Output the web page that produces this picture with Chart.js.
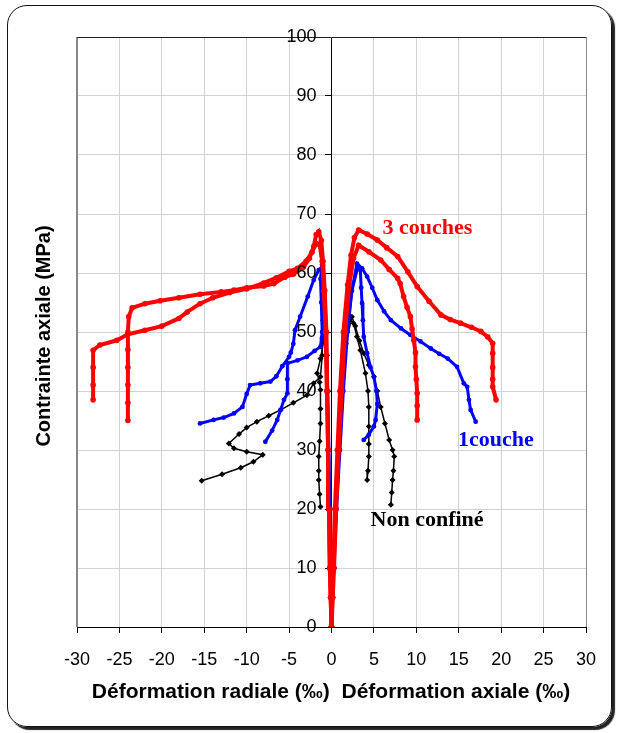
<!DOCTYPE html>
<html>
<head>
<meta charset="utf-8">
<script src="https://cdn.jsdelivr.net/npm/chart.js@4.4.0/dist/chart.umd.min.js"></script>
<style>
body { margin: 0; background: #fff; }
#cadre { position: absolute; left: 7px; top: 5px; width: 605px; height: 722px; box-sizing: border-box;
         border: 1.5px solid #111; border-radius: 20px; box-shadow: 3px 3px 1px #222; }
#graphe { position: absolute; left: 0; top: 0; }
</style>
</head>
<body>
<div id="cadre"></div>
<canvas id="graphe" width="618" height="733"></canvas>
<script>
// [déformation (‰), contrainte (MPa)]
var rouge1Radial = [[0,0],[-0.1,5],[-0.2,10],[-0.3,20],[-0.4,30],[-0.5,40],[-0.6,50],[-0.8,57],[-1.0,62],[-1.2,65.5],[-1.5,67],[-1.8,66.5],[-2.1,64.5],[-2.6,62.5],[-3.3,61],[-4.5,59.8],[-5.5,59.3],[-6.8,58.2],[-8,57.8],[-10,57.5],[-11.5,57.1],[-13,56.8],[-15.5,56.4],[-18,55.8],[-20.2,55.3],[-22,54.8],[-23.5,54.1],[-23.9,52.6],[-24,50],[-24,47],[-24,44],[-24,41],[-24,38],[-24,35]]
var rouge2Radial = [[0,0],[-0.1,5],[-0.2,10],[-0.3,20],[-0.4,30],[-0.55,40],[-0.7,50],[-0.9,57],[-1.1,62],[-1.4,64.8],[-1.8,65],[-2.3,63.5],[-3,62],[-4,60.8],[-5,60.3],[-6.5,59.2],[-8,58.3],[-10,57.3],[-12,56.7],[-14,55.8],[-15.5,54.8],[-17,53.4],[-18,52.3],[-20,51],[-22,50.3],[-24,49.6],[-25.3,48.6],[-27.3,47.8],[-28.1,46.9],[-28.1,44],[-28.1,41],[-28.1,38.5]]
var rouge1Axial = [[0,0],[0.1,5],[0.2,10],[0.4,20],[0.7,30],[1.0,40],[1.4,50],[1.9,58],[2.3,63],[2.7,66],[3.2,67.3],[4.2,66.6],[5.4,65.6],[6.5,64.3],[7.8,62.8],[9,60.2],[10.1,57.7],[11.5,55.2],[12.9,52.9],[14,52.1],[15.2,51.5],[16.5,50.8],[17.6,50.1],[18.4,49.2],[19,48.1],[19,46.4],[19,44],[19,42],[19,40.7],[19.4,38.5]]
var rouge2Axial = [[0,0],[0.15,5],[0.3,10],[0.55,20],[0.85,30],[1.2,40],[1.6,50],[2.1,58],[2.6,62.5],[3.2,64.7],[4.4,63.6],[5.8,62.2],[6.8,60.6],[7.8,59.1],[8.1,58.2],[8.5,56],[8.9,54.2],[9.3,52.6],[9.5,50.5],[9.7,48.6],[9.9,46.5],[9.9,44.1],[10,42],[10.1,39.6],[10.1,37.5],[10.1,35.1]]

var bleu1Radial = [[0,0],[-0.1,10],[-0.2,20],[-0.3,30],[-0.45,40],[-0.6,50],[-0.8,57],[-1.0,61.3],[-1.5,60.5],[-2.1,58.8],[-2.8,56],[-3.7,52.6],[-4.3,50.3],[-4.5,48],[-4.8,46.5],[-5.0,45.8],[-5.8,44.2],[-6.5,42.5],[-7.2,41.6],[-8.4,41.3],[-9.6,41],[-10,39.5],[-10.5,37.3],[-11.5,36.2],[-12.7,35.5],[-13.9,35.1],[-15.5,34.5]]
var bleu2Radial = [[0,0],[-0.1,10],[-0.2,20],[-0.35,30],[-0.5,40],[-0.65,50],[-0.8,57],[-1.1,61.5],[-1.3,59],[-1.2,55],[-1.1,50],[-1.3,47.5],[-2,46.8],[-2.9,45.8],[-4,45.2],[-5.2,44.7],[-5.2,42],[-5.2,39.6],[-5.6,38.5],[-6,36.8],[-6.4,35.1],[-7,33.3],[-7.8,31.4]]
var bleu1Axial = [[0,0],[0.1,5],[0.3,10],[0.6,20],[1.0,30],[1.4,40],[1.9,50],[2.4,57],[3.0,61.6],[3.6,60.8],[4.2,59.4],[4.8,57.5],[5.4,55.4],[6.2,53.5],[7.0,52],[8.2,50.6],[9.3,49.5],[10.5,48.4],[11.7,47.2],[12.7,46.3],[13.7,45.5],[14.8,44.1],[15.6,41.3],[16,40.7],[16.2,38.5],[16.4,36.8],[17,34.8]]
var bleu2Axial = [[0,0],[0.2,10],[0.5,20],[0.9,30],[1.3,40],[1.8,50],[2.4,57],[3.1,61],[3.4,60.5],[3.5,57.5],[3.6,54.9],[3.7,52],[3.8,49.2],[4.2,46.4],[4.6,44],[5.0,42.4],[5.3,40],[5.4,37.8],[5.2,35.1],[5.0,34],[4.4,32.6],[3.8,31.7]]

var noir1Radial = [[0,0],[-0.1,5],[-0.2,10],[-0.25,20],[-0.3,30],[-0.4,40],[-0.5,46],[-0.7,50],[-0.9,51.5],[-1.1,49],[-1.1,46],[-1.3,42.4],[-2.1,41.3],[-2.9,39.3],[-4.5,38],[-6,36.8],[-7.4,35.8],[-8.8,34.8],[-10,33.8],[-10.9,32.7],[-12.1,31.1],[-11.5,30.3],[-10,29.7],[-8.1,29.2],[-9.2,28],[-10.7,27],[-12.9,25.9],[-15.3,24.8]]
var noir2Radial = [[0,0],[-0.1,5],[-0.2,10],[-0.3,20],[-0.4,30],[-0.5,40],[-0.6,46],[-0.8,50],[-1,52],[-0.9,48.6],[-1.3,45.5],[-1.7,43],[-1.4,41.5],[-1.3,40.2],[-1.3,37],[-1.3,34.5],[-1.4,31.5],[-1.5,28.9],[-1.5,26.5],[-1.5,24.9],[-1.4,22.5],[-1.3,20.4]]
var noir1Axial = [[0,0],[0.1,5],[0.2,10],[0.4,20],[0.7,30],[1.0,40],[1.5,48],[2.1,52.3],[2.6,51.5],[3.0,49.2],[3.4,46.9],[4.0,43],[4.3,40],[4.4,37.3],[4.4,34],[4.4,31],[4.4,28.9],[4.3,26.5],[4.2,24.9]]
var noir2Axial = [[0,0],[0.15,5],[0.3,10],[0.5,20],[0.8,30],[1.2,40],[1.7,48],[2.4,52.6],[2.8,51],[3.3,48.5],[3.8,46.4],[4.4,44.4],[5.0,42.4],[5.4,40],[5.8,37.3],[6.3,34.5],[6.8,31.7],[7.2,30],[7.4,28.9],[7.3,26.5],[7.2,24.9],[7.1,22.8],[7.0,20.7]]

var policeAxe = "'Liberation Sans', Arial, sans-serif"
var policeEtiq = "'Liberation Serif', 'Times New Roman', serif"

function pts(arr) {
    return arr.map(function (p) { return {x: p[0], y: p[1]} })
}

function serie(arr, couleur, epaisseur, forme, rayon) {
    return {
        data: pts(arr),
        showLine: true,
        borderColor: couleur,
        backgroundColor: couleur,
        borderWidth: epaisseur,
        pointStyle: forme,
        pointRadius: rayon,
        pointBorderWidth: 0,
        tension: 0
    }
}

// cadre du tracé, graduations de l'axe central, titres et étiquettes
var decor = {
    id: "decor",
    beforeDatasetsDraw: function (chart) {
        var ctx = chart.ctx
        var a = chart.chartArea
        ctx.save()
        ctx.strokeStyle = "#888"
        ctx.lineWidth = 2
        ctx.beginPath(); ctx.moveTo(a.left, a.top); ctx.lineTo(a.left, a.bottom); ctx.stroke()
        ctx.lineWidth = 1
        ctx.beginPath(); ctx.moveTo(a.right + 0.5, a.top); ctx.lineTo(a.right + 0.5, a.bottom); ctx.stroke()
        ctx.strokeStyle = "#222"
        ctx.beginPath(); ctx.moveTo(a.left, a.top + 0.5); ctx.lineTo(a.right, a.top + 0.5); ctx.stroke()
        ctx.restore()
    },
    afterDraw: function (chart) {
        var ctx = chart.ctx
        var sx = chart.scales.x, sy = chart.scales.y
        var x0 = sx.getPixelForValue(0)

        ctx.save()
        ctx.fillStyle = "#000"
        ctx.font = "18px " + policeAxe
        ctx.textAlign = "right"
        ctx.textBaseline = "middle"
        sy.ticks.forEach(function (t) {
            ctx.fillText(String(t.value), x0 - 15, sy.getPixelForValue(t.value))
        })

        ctx.font = "bold 21px " + policeAxe
        ctx.textAlign = "center"
        ctx.fillText("Déformation radiale (‰)  Déformation axiale (‰)", 331, 692)
        ctx.font = "bold 20px " + policeAxe
        ctx.translate(44, 336)
        ctx.rotate(-Math.PI / 2)
        ctx.fillText("Contrainte axiale (MPa)", 0, 0)
        ctx.restore()

        ctx.save()
        ctx.font = "bold 22px " + policeEtiq
        ctx.textAlign = "left"
        ctx.textBaseline = "middle"
        ctx.fillStyle = "#ff0000"
        ctx.fillText("3 couches", sx.getPixelForValue(6.0), sy.getPixelForValue(67.6))
        ctx.fillStyle = "#0000ff"
        ctx.fillText("1couche", sx.getPixelForValue(14.9), sy.getPixelForValue(31.7))
        ctx.fillStyle = "#000"
        ctx.fillText("Non confiné", sx.getPixelForValue(4.6), sy.getPixelForValue(18.0))
        ctx.restore()
    }
}

var grille = {color: "#d2d2d2", borderDash: [1, 2], tickBorderDash: [], tickColor: "#000", tickLength: 6}

var chart = new Chart("graphe", {
    type: "scatter",
    data: {
        datasets: [
            serie(rouge1Radial, "#ff0000", 4, "circle", 2.8),
            serie(rouge2Radial, "#ff0000", 4, "circle", 2.8),
            serie(rouge1Axial, "#ff0000", 4, "circle", 2.8),
            serie(rouge2Axial, "#ff0000", 4, "circle", 2.8),
            serie(bleu1Radial, "#0000ff", 3, "circle", 2.4),
            serie(bleu2Radial, "#0000ff", 3, "circle", 2.4),
            serie(bleu1Axial, "#0000ff", 3, "circle", 2.4),
            serie(bleu2Axial, "#0000ff", 3, "circle", 2.4),
            serie(noir1Radial, "#000000", 1.5, "rectRot", 3),
            serie(noir2Radial, "#000000", 1.5, "rectRot", 3),
            serie(noir1Axial, "#000000", 1.5, "rectRot", 3),
            serie(noir2Axial, "#000000", 1.5, "rectRot", 3)
        ]
    },
    options: {
        responsive: false,
        animation: false,
        layout: {padding: {left: 77, right: 32, top: 37, bottom: 56}},
        plugins: {legend: {display: false}, tooltip: {enabled: false}},
        scales: {
            x: {
                type: "linear", min: -30, max: 30,
                afterFit: function (s) { s.height = 50 },
                ticks: {stepSize: 5, color: "#000", padding: 16, font: {family: policeAxe, size: 18}},
                grid: grille,
                border: {color: "#000", width: 1}
            },
            y: {
                type: "linear", min: 0, max: 100,
                position: {x: 0},
                ticks: {stepSize: 10, display: false},
                grid: grille,
                border: {color: "#000", width: 1}
            }
        }
    },
    plugins: [decor]
})
</script>
</body>
</html>
